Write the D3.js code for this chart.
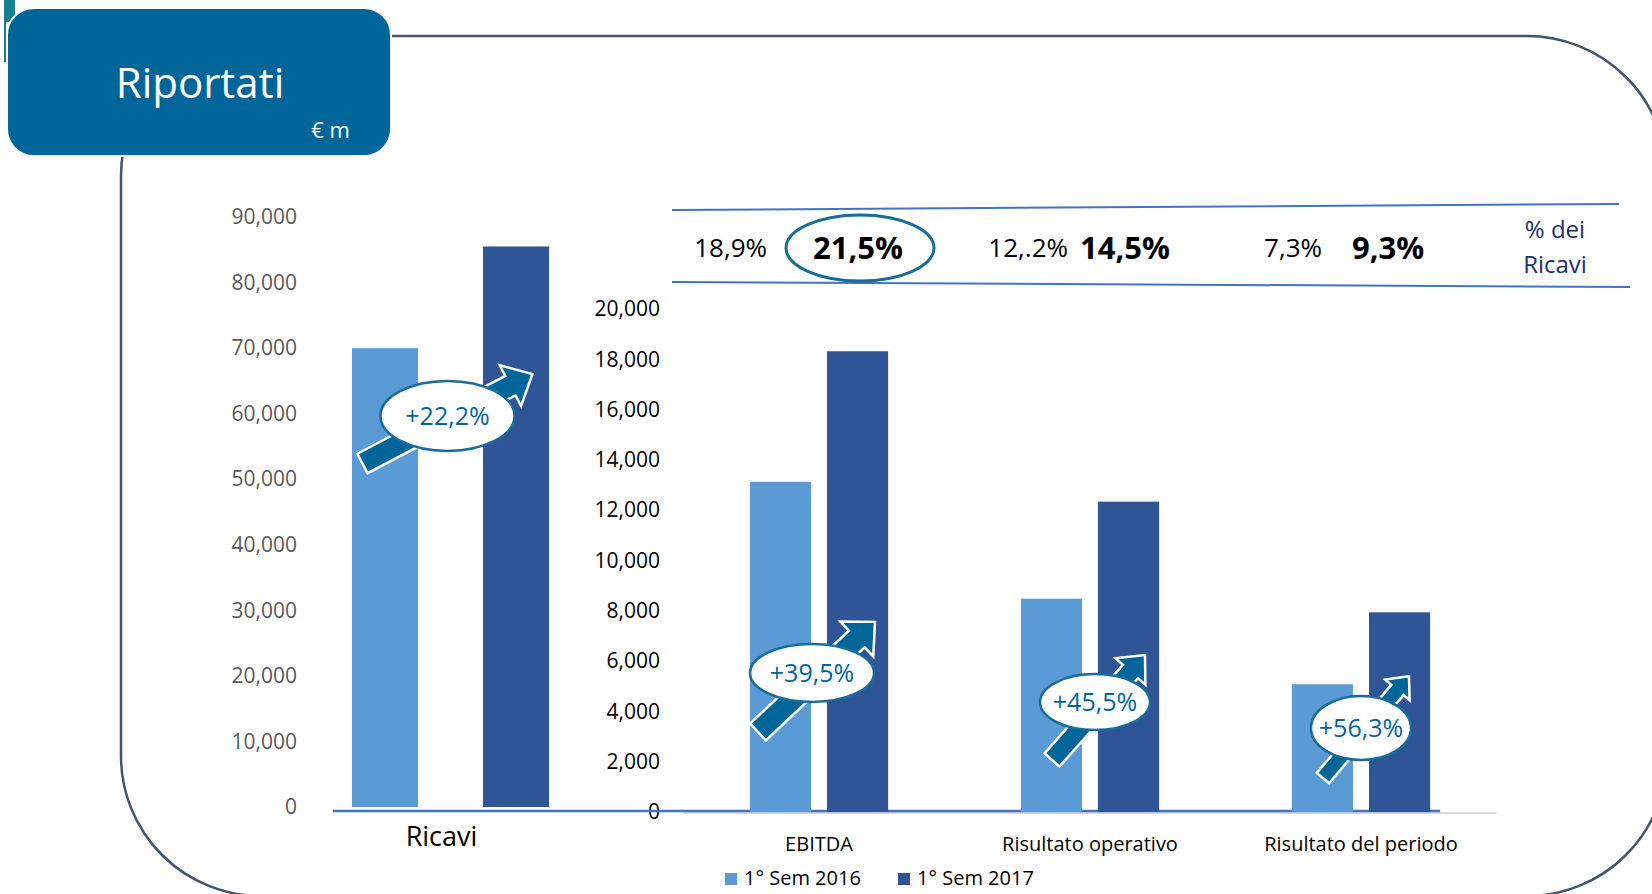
<!DOCTYPE html>
<html lang="it">
<head>
<meta charset="UTF-8">
<title>Riportati</title>
<script src="https://d3js.org/d3.v7.min.js"></script>
<style>
  body { margin: 0; background: #fff; }
  text { font-family: "Open Sans", sans-serif; }
</style>
</head>
<body>
<div id="chart"></div>
<script>
// --- data ---
const seriesNames = ["1° Sem 2016", "1° Sem 2017"];
const ricaviCat = ["Ricavi"];
const ricavi2016 = [70000];
const ricavi2017 = [85500];
const categories = ["EBITDA", "Risultato operativo", "Risultato del periodo"];
const sem2016 = [13130, 8480, 5080];
const sem2017 = [18320, 12340, 7940];
const leftTicks = [0, 10000, 20000, 30000, 40000, 50000, 60000, 70000, 80000, 90000];
const rightTicks = [0, 2000, 4000, 6000, 8000, 10000, 12000, 14000, 16000, 18000, 20000];
const growthLabels = ["+22,2%", "+39,5%", "+45,5%", "+56,3%"];
const margin2016 = ["18,9%", "12,.2%", "7,3%"];
const margin2017 = ["21,5%", "14,5%", "9,3%"];

const W = 1652, H = 894;
const light = "#5B9BD5", dark = "#2F5597", brand = "#006699";

const svg = d3.select("#chart").append("svg")
    .attr("width", W).attr("height", H);

// outer rounded frame
svg.append("rect")
    .attr("x", 121).attr("y", 36)
    .attr("width", 1546).attr("height", 860)
    .attr("rx", 140)
    .attr("fill", "none").attr("stroke", "#44546A").attr("stroke-width", 2.5);

// small teal edge peeking at top left
svg.append("rect").attr("x", 5).attr("y", 0).attr("width", 10).attr("height", 22).attr("fill", "#17808F");
svg.append("line").attr("x1", 5).attr("x2", 5).attr("y1", 0).attr("y2", 62)
    .attr("stroke", "#17808F").attr("stroke-width", 2);

// title box
svg.append("rect")
    .attr("x", 7).attr("y", 8).attr("width", 384).attr("height", 148)
    .attr("rx", 27).attr("fill", brand).attr("stroke", "#fff").attr("stroke-width", 2);
svg.append("text").attr("x", 200).attr("y", 98).attr("text-anchor", "middle")
    .attr("fill", "#fff").attr("font-size", 42).text("Riportati");
svg.append("text").attr("x", 350).attr("y", 138).attr("text-anchor", "end")
    .attr("fill", "#fff").attr("font-size", 22).text("€ m");

// --- scales ---
const xL = d3.scaleBand().domain(ricaviCat).range([352, 549]);
const xLs = d3.scaleBand().domain(seriesNames).range([0, xL.bandwidth()]).paddingInner(0.496);
const yL = d3.scaleLinear().domain([0, 90000]).range([807, 217]);

const xR = d3.scaleBand().domain(categories).range([683.5, 1496.5])
    .paddingInner(0.49).paddingOuter(0.245);
const xRs = d3.scaleBand().domain(seriesNames).range([0, xR.bandwidth()]).paddingInner(0.208);
const yR = d3.scaleLinear().domain([0, 20000]).range([812, 309]);

const color = d3.scaleOrdinal().domain(seriesNames).range([light, dark]);

// --- axes (labels only) ---
const fmt = d3.format(",");
const gl = svg.append("g").attr("transform", "translate(297,0)")
    .call(d3.axisLeft(yL).tickValues(leftTicks).tickSize(0).tickPadding(0).tickFormat(fmt));
gl.select(".domain").remove();
gl.selectAll("text").attr("font-family", "Open Sans").attr("font-size", 21).attr("fill", "#595959");

const gr = svg.append("g").attr("transform", "translate(660,0)")
    .call(d3.axisLeft(yR).tickValues(rightTicks).tickSize(0).tickPadding(0).tickFormat(fmt));
gr.select(".domain").remove();
gr.selectAll("text").attr("font-family", "Open Sans").attr("font-size", 21).attr("fill", "#000");

// gray category axis of right chart
svg.append("line")
    .attr("x1", xR.range()[0]).attr("x2", xR.range()[1])
    .attr("y1", yR(0) + 1).attr("y2", yR(0) + 1)
    .attr("stroke", "#D9D9D9").attr("stroke-width", 2);
// blue baseline across both charts
svg.append("line")
    .attr("x1", xL.range()[0] - 19)
    .attr("x2", xR(categories[categories.length - 1]) + xR.bandwidth() + 10)
    .attr("y1", yL(0) + 4).attr("y2", yL(0) + 4)
    .attr("stroke", "#4472C4").attr("stroke-width", 2.5);

// --- bars ---
const leftRows = ricaviCat.map((c, i) => ({ cat: c, vals: [ricavi2016[i], ricavi2017[i]] }));
const rightRows = categories.map((c, i) => ({ cat: c, vals: [sem2016[i], sem2017[i]] }));

svg.append("g").selectAll("g").data(leftRows).join("g")
    .attr("transform", d => `translate(${xL(d.cat)},0)`)
  .selectAll("rect").data(d => d.vals.map((v, j) => ({ s: seriesNames[j], v })))
  .join("rect")
    .attr("x", d => xLs(d.s)).attr("width", xLs.bandwidth())
    .attr("y", d => yL(d.v)).attr("height", d => yL(0) - yL(d.v))
    .attr("fill", d => color(d.s));

svg.append("g").selectAll("g").data(rightRows).join("g")
    .attr("transform", d => `translate(${xR(d.cat)},0)`)
  .selectAll("rect").data(d => d.vals.map((v, j) => ({ s: seriesNames[j], v })))
  .join("rect")
    .attr("x", d => xRs(d.s)).attr("width", xRs.bandwidth())
    .attr("y", d => yR(d.v)).attr("height", d => yR(0) - yR(d.v))
    .attr("fill", d => color(d.s));

// category labels
svg.append("text")
    .attr("x", xL(ricaviCat[0]) + xL.bandwidth() / 2 - 9).attr("y", 846)
    .attr("text-anchor", "middle").attr("font-size", 27).attr("fill", "#000")
    .text(ricaviCat[0]);
svg.append("g").selectAll("text").data(categories).join("text")
    .attr("x", d => xR(d) + xR.bandwidth() / 2).attr("y", 851)
    .attr("text-anchor", "middle").attr("font-size", 20).attr("fill", "#000")
    .text(d => d);

// legend
const legX = [725, 898];
const leg = svg.append("g").selectAll("g").data(seriesNames).join("g")
    .attr("transform", (d, i) => `translate(${legX[i]},873)`);
leg.append("rect").attr("width", 12).attr("height", 12).attr("fill", d => color(d));
leg.append("text").attr("x", 19).attr("y", 12).attr("font-size", 20).attr("fill", "#000").text(d => d);

// --- growth arrows with ellipse labels ---
// tail/tip/centre given as pixel offset from the group centre and a value on the axis
const growthLayout = [
  { x: xL, y: yL, cat: "Ricavi", tail: [-88, 52400], tip: [82, 66050], c: [-3, 59650], rx: 67, ry: 35, shaft: 22, headW: 46, headL: 25 },
  { x: xR, y: yR, cat: categories[0], tail: [-61, 3180], tip: [56, 7560], c: [-7, 5530], rx: 62, ry: 29, shaft: 23, headW: 48, headL: 25 },
  { x: xR, y: yR, cat: categories[1], tail: [-38, 2070], tip: [55, 6240], c: [5, 4370], rx: 55, ry: 28, shaft: 20, headW: 40, headL: 22 },
  { x: xR, y: yR, cat: categories[2], tail: [-38, 1350], tip: [48, 5400], c: [0, 3340], rx: 50, ry: 32, shaft: 16, headW: 32, headL: 18 }
];

function arrowPath(len, s, hw, hl) {
  const p = d3.path();
  p.moveTo(0, -s / 2);
  p.lineTo(len - hl, -s / 2);
  p.lineTo(len - hl, -hw / 2);
  p.lineTo(len, 0);
  p.lineTo(len - hl, hw / 2);
  p.lineTo(len - hl, s / 2);
  p.lineTo(0, s / 2);
  p.closePath();
  return p.toString();
}

growthLayout.forEach((a, i) => {
  const cx = a.x(a.cat) + a.x.bandwidth() / 2;
  const x0 = cx + a.tail[0], y0 = a.y(a.tail[1]);
  const x1 = cx + a.tip[0], y1 = a.y(a.tip[1]);
  const len = Math.hypot(x1 - x0, y1 - y0);
  const ang = Math.atan2(y1 - y0, x1 - x0) * 180 / Math.PI;
  const g = svg.append("g");
  g.append("path")
      .attr("d", arrowPath(len, a.shaft, a.headW, a.headL))
      .attr("transform", `translate(${x0},${y0}) rotate(${ang})`)
      .attr("fill", brand).attr("stroke", "#fff").attr("stroke-width", 2.5)
      .attr("stroke-linejoin", "miter");
  const ex = cx + a.c[0], ey = a.y(a.c[1]);
  g.append("ellipse")
      .attr("cx", ex).attr("cy", ey).attr("rx", a.rx).attr("ry", a.ry)
      .attr("fill", "#fff").attr("stroke", "#176C9C").attr("stroke-width", 2.5);
  g.append("text")
      .attr("x", ex).attr("y", ey).attr("dy", "0.35em")
      .attr("text-anchor", "middle").attr("font-size", 25).attr("fill", brand)
      .text(growthLabels[i]);
});

// --- margin band (% dei Ricavi) ---
const band = svg.append("g");
band.append("line").attr("x1", 672).attr("y1", 210).attr("x2", 1619).attr("y2", 204)
    .attr("stroke", "#4472C4").attr("stroke-width", 2);
band.append("line").attr("x1", 672).attr("y1", 282).attr("x2", 1630).attr("y2", 287)
    .attr("stroke", "#4472C4").attr("stroke-width", 2);

const bandY = 248;
const offA = [-52, -22, -39];   // right end of 2016 label, from group centre
const offB = [-6, -10, -9];     // left start of 2017 label, from group centre
categories.forEach((c, i) => {
  const cx = xR(c) + xR.bandwidth() / 2;
  band.append("text").attr("x", cx + offA[i]).attr("y", bandY).attr("dy", "0.35em")
      .attr("text-anchor", "end").attr("font-size", 26).attr("fill", "#000")
      .text(margin2016[i]);
  band.append("text").attr("x", cx + offB[i]).attr("y", bandY).attr("dy", "0.35em")
      .attr("text-anchor", "start").attr("font-size", 31).attr("font-weight", 700).attr("fill", "#000")
      .text(margin2017[i]);
});
// circle around the EBITDA margin
band.append("ellipse")
    .attr("cx", xR(categories[0]) + xR.bandwidth() / 2 + 41).attr("cy", bandY)
    .attr("rx", 74).attr("ry", 33)
    .attr("fill", "none").attr("stroke", "#176C9C").attr("stroke-width", 3);

band.append("text").attr("x", 1555).attr("y", 230).attr("dy", "0.35em")
    .attr("text-anchor", "middle").attr("font-size", 24).attr("fill", "#1B2F6E").text("% dei");
band.append("text").attr("x", 1555).attr("y", 265).attr("dy", "0.35em")
    .attr("text-anchor", "middle").attr("font-size", 24).attr("fill", "#1B2F6E").text("Ricavi");
</script>
</body>
</html>
